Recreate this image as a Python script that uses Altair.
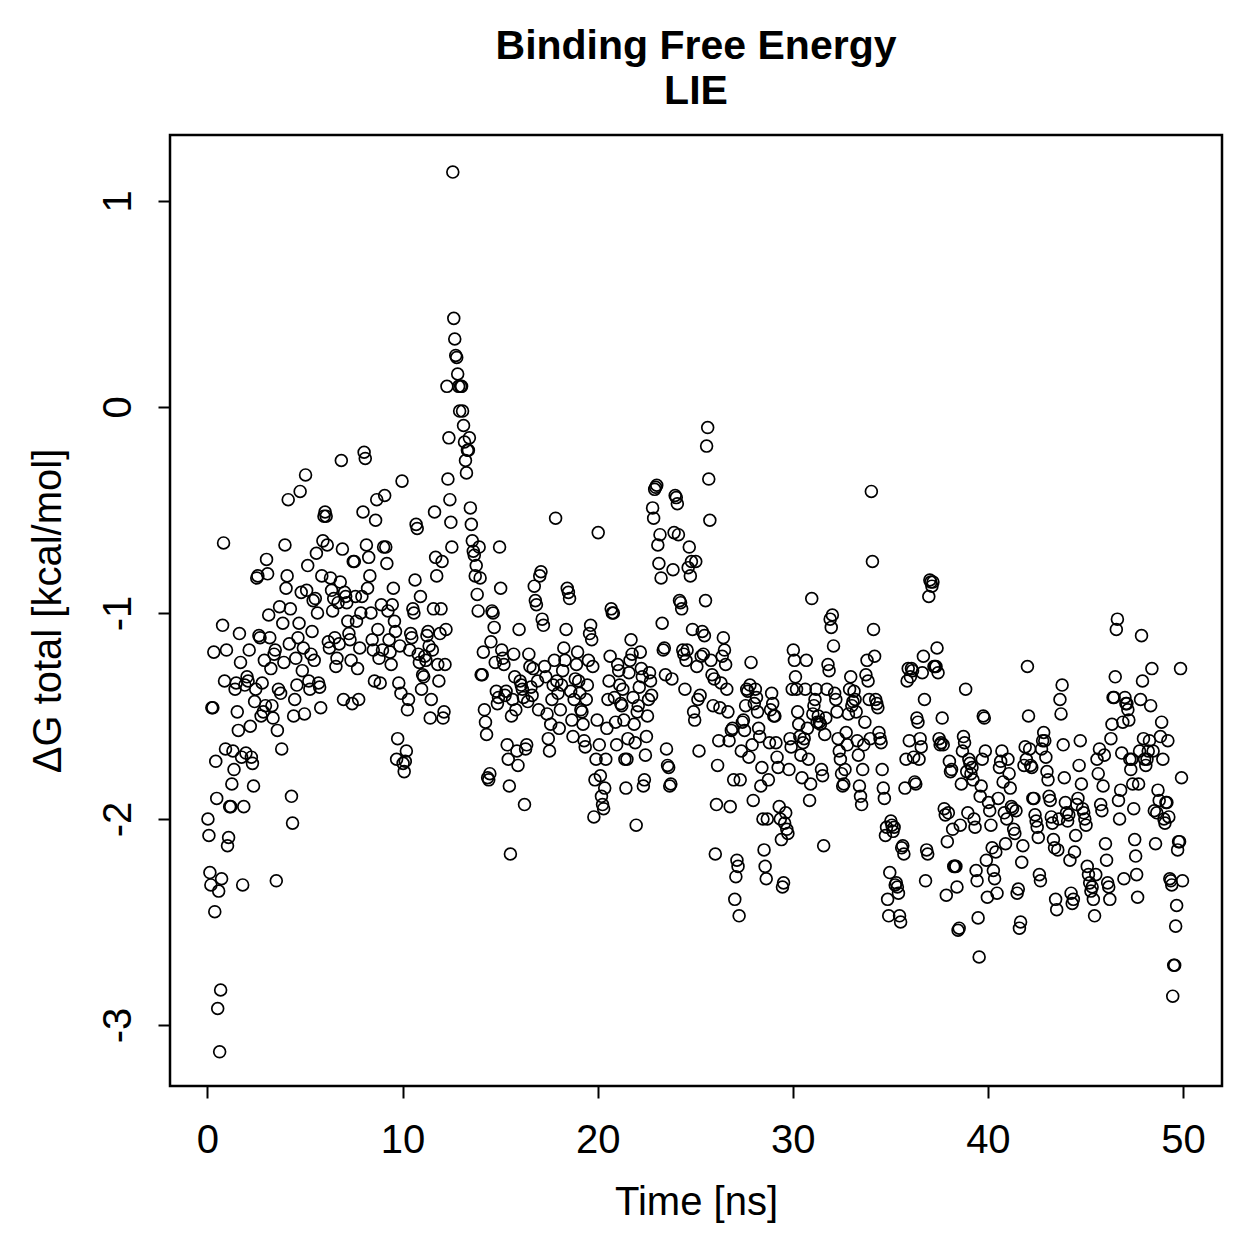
import altair as alt
import pandas as pd

# Delta G (kcal/mol) sampled along the trajectory, one inner list per nanosecond
dg_00_10 = [
    [-2.00, -2.08, -2.26, -2.32, -1.46, -1.46, -1.19, -2.45, -1.72, -1.90, -2.92, -2.35, -3.13, -2.83, -2.29, -1.06, -0.66, -1.33, -1.66, -1.18],
    [-2.13, -2.09, -1.94, -1.94, -1.83, -1.67, -1.76, -1.37, -1.34, -1.48, -1.57, -1.10, -1.24, -1.70, -2.32, -1.94, -1.35, -1.68],
    [-1.31, -1.33, -1.18, -1.55, -1.70, -1.73, -1.84, -1.43, -1.37, -0.83, -0.82, -1.11, -1.12, -1.50, -1.34, -1.48, -1.23, -1.45],
    [-0.74, -0.81, -1.01, -1.12, -1.27, -1.45, -1.51, -1.20, -1.18, -2.30, -1.57, -1.37, -0.97, -1.39, -1.66, -1.05, -1.24, -0.67],
    [-0.88, -0.82, -0.45, -1.15, -0.98, -1.89, -2.02, -1.50, -1.42, -1.22, -1.35, -1.12, -1.05, -0.41, -0.90, -1.28, -1.17, -1.49],
    [-0.33, -0.89, -0.77, -1.33, -1.37, -1.20, -1.09, -0.94, -1.23, -0.93, -0.71, -1.00, -1.34, -1.36, -1.46, -0.82, -0.65, -0.53],
    [-0.51, -0.53, -0.67, -1.14, -1.17, -0.83, -0.89, -0.99, -0.93, -1.12, -1.26, -1.22, -0.95, -1.15, -0.85, -0.26, -0.69, -1.42],
    [-0.90, -0.92, -0.95, -1.04, -1.10, -1.13, -1.23, -1.44, -0.75, -0.75, -0.92, -1.04, -1.27, -1.42, -1.17, -1.00, -0.92, -0.51],
    [-0.22, -0.25, -0.67, -0.88, -0.73, -0.82, -1.00, -1.13, -1.18, -1.33, -0.55, -0.45, -1.08, -1.22, -1.34, -0.96, -1.18],
    [-0.68, -0.43, -0.68, -0.76, -0.99, -1.13, -1.19, -1.25, -0.96, -0.88, -1.04, -1.09, -1.71, -1.61, -1.34, -1.16, -1.39, -0.36],
]
dg_10_20 = [
    [-1.73, -1.77, -1.72, -1.67, -1.47, -1.42, -1.18, -1.10, -1.12, -0.98, -1.00, -0.84, -0.57, -0.59, -1.20, -1.24, -0.92, -1.37],
    [-1.30, -1.31, -1.21, -1.23, -1.11, -1.09, -1.16, -1.51, -1.42, -1.18, -0.98, -0.51, -0.73, -0.82, -1.25, -1.33, -1.10, -0.98],
    [-0.75, -1.51, -1.48, -1.25, -1.08, 0.10, -0.35, -0.15, -0.45, -0.56, -0.68, 1.14, 0.43, 0.33, 0.25, 0.24, 0.16, 0.10, -0.02, 0.10],
    [0.10, -0.02, -0.09, -0.17, -0.26, -0.32, -0.21, -0.21, -0.15, -0.49, -0.57, -0.65, -0.70, -0.72, -0.82, -0.77, -0.91, -0.99, -0.68, -0.83],
    [-1.30, -1.30, -1.19, -1.47, -1.53, -1.59, -1.80, -1.81, -1.78, -1.14, -0.99, -1.00, -1.07, -1.24, -1.38, -1.44, -1.41, -0.68],
    [-0.88, -1.18, -1.22, -1.25, -1.40, -1.38, -1.64, -1.71, -1.84, -2.17, -1.50, -1.42, -1.20, -1.31, -1.47, -1.67, -1.74, -1.08],
    [-1.33, -1.35, -1.37, -1.41, -1.93, -1.66, -1.64, -1.43, -1.20, -1.26, -1.36, -1.40, -1.27, -0.87, -0.94, -0.96, -1.33, -1.47],
    [-0.82, -0.80, -1.03, -1.06, -1.26, -1.31, -1.49, -1.61, -1.67, -1.54, -1.42, -1.35, -1.23, -0.54, -1.33, -1.39],
    [-1.56, -1.47, -1.35, -1.28, -1.17, -1.23, -1.08, -0.88, -0.90, -0.93, -1.38, -1.52, -1.60, -1.42, -1.32, -1.25, -1.19],
    [-1.33, -1.39, -1.47, -1.48, -1.54, -1.62, -1.65, -1.42, -1.35, -1.23, -1.10, -1.06, -1.13, -1.26, -1.99, -1.81, -1.71, -1.52],
]
dg_20_30 = [
    [-0.61, -1.64, -1.79, -1.89, -1.93, -1.95, -1.85, -1.71, -1.56, -1.42, -1.33, -1.21, -0.98, -1.00, -1.00, -1.41, -1.53, -1.64],
    [-1.25, -1.28, -1.35, -1.44, -1.45, -1.37, -1.52, -1.71, -1.85, -1.71, -1.61, -1.29, -1.23, -1.13, -1.20, -1.41, -1.54, -1.63, -2.03],
    [-1.48, -1.45, -1.36, -1.19, -1.27, -1.31, -1.84, -1.81, -1.69, -1.60, -1.50, -1.42, -1.29, -1.33, -1.40, -0.49, -0.54, -0.40, -0.39],
    [-0.38, -0.67, -0.76, -0.62, -0.83, -1.05, -1.18, -1.17, -1.30, -1.66, -1.74, -1.75, -1.84, -1.83, -1.32, -0.79, -0.61, -0.43],
    [-0.44, -0.47, -0.62, -0.94, -0.95, -0.98, -1.18, -1.20, -1.37, -1.23, -1.18, -0.78, -0.68, -0.82, -0.75, -1.08, -1.48, -1.52],
    [-0.75, -1.26, -1.42, -1.67, -1.40, -1.21, -1.09, -1.20, -1.11, -0.94, -0.19, -0.10, -0.35, -0.55, -1.23, -1.30, -1.45, -1.32],
    [-2.17, -1.93, -1.74, -1.62, -1.46, -1.34, -1.21, -1.12, -1.18, -1.25, -1.37, -1.48, -1.62, -1.94, -1.57, -1.56, -1.81],
    [-2.39, -2.28, -2.20, -2.23, -2.47, -1.81, -1.67, -1.53, -1.52, -1.57, -1.45, -1.37, -1.38, -1.70, -1.35, -1.24, -1.64, -1.91],
    [-1.44, -1.37, -1.41, -1.48, -1.56, -1.60, -1.84, -1.75, -2.00, -2.15, -2.23, -2.29, -2.00, -1.81, -1.63, -1.47, -1.39, -1.44],
    [-1.50, -1.50, -1.63, -1.70, -1.75, -1.94, -2.00, -2.10, -2.33, -2.31, -2.02, -1.97, -2.05, -2.07, -1.76, -1.61, -1.65, -1.37],
]
dg_30_40 = [
    [-1.18, -1.23, -1.31, -1.37, -1.48, -1.54, -1.60, -1.69, -1.80, -1.63, -1.61, -1.37, -1.23, -1.56, -1.71, -1.91, -1.83, -0.93],
    [-1.49, -1.45, -1.42, -1.37, -1.53, -1.50, -1.53, -1.54, -1.76, -1.79, -2.13, -1.59, -1.51, -1.37, -1.25, -1.28, -1.03, -1.07],
    [-1.01, -1.16, -1.39, -1.42, -1.48, -1.61, -1.67, -1.71, -1.78, -1.84, -1.83, -1.76, -1.58, -1.64, -1.49, -1.37, -1.31],
    [-1.45, -1.43, -1.38, -1.42, -1.48, -1.62, -1.69, -1.84, -1.89, -1.93, -1.76, -1.64, -1.53, -1.30, -1.23, -1.33, -1.42, -1.61],
    [-0.41, -0.75, -1.08, -1.21, -1.42, -1.44, -1.46, -1.58, -1.61, -1.63, -1.76, -1.85, -1.90, -2.08, -2.04, -2.39, -2.47, -2.26],
    [-2.01, -2.03, -2.06, -2.04, -2.32, -2.31, -2.33, -2.36, -2.47, -2.50, -2.14, -2.13, -2.17, -1.85, -1.71, -1.33, -1.27, -1.62],
    [-1.31, -1.27, -1.28, -1.70, -1.82, -1.83, -1.51, -1.53, -1.71, -1.61, -1.65, -1.29, -1.21, -1.42, -2.30, -2.15, -2.17, -0.92],
    [-0.84, -0.85, -0.87, -0.85, -1.26, -1.26, -1.26, -1.17, -1.29, -1.61, -1.64, -1.63, -1.51, -1.64, -1.95, -1.98, -2.37, -2.11, -1.97],
    [-1.72, -1.77, -1.76, -2.05, -2.23, -2.23, -2.23, -2.33, -2.54, -2.53, -2.03, -1.83, -1.67, -1.60, -1.63, -1.37, -1.77, -1.97],
    [-1.71, -1.73, -1.78, -1.75, -1.81, -2.00, -2.04, -2.25, -2.30, -2.48, -2.67, -1.89, -1.84, -1.71, -1.50, -1.51, -1.67, -2.20, -2.38],
]
dg_40_50 = [
    [-1.92, -1.96, -2.03, -2.14, -2.25, -2.29, -2.16, -2.36, -1.90, -1.75, -1.72, -1.67, -1.82, -1.97, -2.12, -2.00],
    [-1.71, -1.78, -1.85, -1.94, -1.95, -2.05, -2.07, -1.96, -2.36, -2.34, -2.53, -2.50, -2.21, -2.13, -1.74, -1.65, -1.71],
    [-1.26, -1.50, -1.66, -1.74, -1.75, -1.90, -1.90, -1.98, -2.01, -2.04, -2.09, -2.27, -2.30, -1.66, -1.62, -1.58, -1.62, -1.70],
    [-1.77, -1.81, -1.89, -1.91, -1.99, -2.02, -2.10, -2.14, -2.39, -2.44, -2.15, -2.00, -1.42, -1.49, -1.35, -1.64, -1.80, -1.92],
    [-1.97, -2.01, -1.98, -2.20, -2.36, -2.41, -2.39, -2.16, -2.08, -1.93, -1.90, -1.74, -1.62, -1.83, -1.95, -1.97, -2.00],
    [-2.03, -2.23, -2.27, -2.31, -2.35, -2.33, -2.39, -2.47, -2.27, -1.71, -1.78, -1.66, -1.93, -1.96, -1.84, -1.69],
    [-2.12, -2.20, -2.31, -2.33, -2.39, -1.61, -1.54, -1.41, -1.41, -1.31, -1.08, -1.03, -1.91, -2.00, -1.86, -1.68, -1.53, -2.29],
    [-1.41, -1.44, -1.44, -1.47, -1.52, -1.71, -1.76, -1.71, -1.83, -1.95, -2.10, -2.18, -2.27, -2.38, -1.83, -1.67, -1.42, -1.11, -1.33, -1.61],
    [-1.71, -1.74, -1.71, -1.67, -1.62, -1.45, -1.27, -1.67, -1.96, -2.12, -1.97, -1.86, -1.91, -1.60, -1.53, -1.71],
    [-2.00, -2.02, -1.92, -1.92, -1.62, -1.99, -2.29, -2.30, -2.32, -2.86, -2.71, -2.71, -2.52, -2.42, -2.15, -2.11, -2.11, -1.27, -1.80, -2.30],
]

x_ticks = [0, 10, 20, 30, 40, 50]
y_ticks = [-3, -2, -1, 0, 1]

# frames are spread evenly inside each nanosecond
rows = []
ns = 0
for blocks in (dg_00_10, dg_10_20, dg_20_30, dg_30_40, dg_40_50):
    for block in blocks:
        n = len(block)
        for i, v in enumerate(block):
            rows.append({"time": ns + (i + 0.5) / n, "dg": v})
        ns += 1
df = pd.DataFrame(rows)

FONT = "Liberation Sans"

chart = (
    alt.Chart(df)
    .mark_point(shape="circle", filled=False, color="black", size=140, strokeWidth=1.7, opacity=1)
    .encode(
        x=alt.X(
            "time:Q",
            scale=alt.Scale(domain=[-1.92, 52.0], nice=False, zero=False),
            axis=alt.Axis(
                title="Time [ns]",
                values=x_ticks,
                labelExpr="datum.value + ''",
                grid=False,
                domain=False,
                tickSize=12,
                tickWidth=2,
                tickColor="black",
                labelPadding=22,
                labelFontSize=40,
                labelFont=FONT,
                labelColor="black",
                titleFontSize=40,
                titleFont=FONT,
                titleFontWeight="normal",
                titleColor="black",
                titlePadding=22,
            ),
        ),
        y=alt.Y(
            "dg:Q",
            scale=alt.Scale(domain=[-3.296, 1.32], nice=False, zero=False),
            axis=alt.Axis(
                title="ΔG total [kcal/mol]",
                values=y_ticks,
                labelExpr="datum.value + ''",
                grid=False,
                domain=False,
                tickSize=12,
                tickWidth=2,
                tickColor="black",
                labelAngle=270,
                labelAlign="center",
                labelBaseline="bottom",
                labelPadding=20,
                labelFontSize=40,
                labelFont=FONT,
                labelColor="black",
                titleFontSize=40,
                titleFont=FONT,
                titleFontWeight="normal",
                titleColor="black",
                titlePadding=30,
            ),
        ),
    )
    .properties(
        width=1052,
        height=951,
        padding={"left": 170, "top": 135, "right": 37, "bottom": 173},
        autosize=alt.AutoSizeParams(type="none"),
        title=alt.TitleParams(
            text=["Binding Free Energy", "LIE"],
            font=FONT,
            fontSize=41,
            fontWeight="bold",
            color="black",
            anchor="middle",
            lineHeight=45,
            offset=22,
        ),
    )
    .configure(background="white")
    .configure_view(stroke="black", strokeWidth=2.5)
)

chart.save("out.html", embed_options={"renderer": "svg", "actions": False})
